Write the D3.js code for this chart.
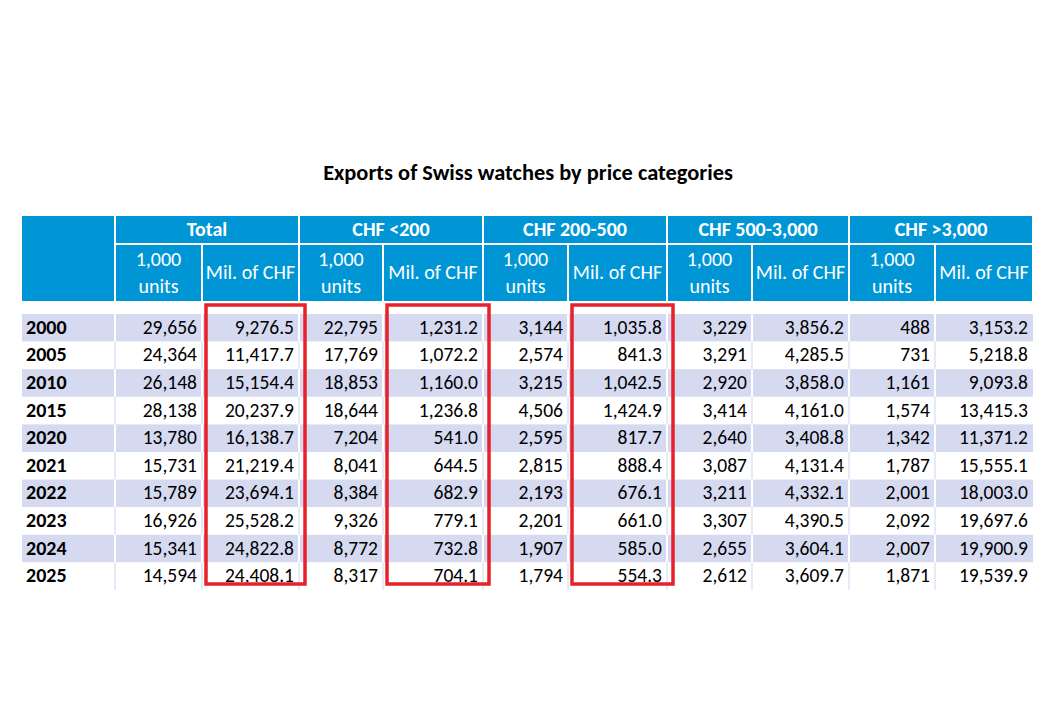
<!DOCTYPE html>
<html>
<head>
<meta charset="utf-8">
<script src="https://cdn.jsdelivr.net/npm/d3@7"></script>
<style>
  body { margin: 0; background: #fff; }
  svg text { font-family: Carlito, Calibri, Lato, sans-serif; }
</style>
</head>
<body>
<svg id="chart" width="1056" height="704"></svg>
<script>
var years = [2000, 2005, 2010, 2015, 2020, 2021, 2022, 2023, 2024, 2025];
var groups = ["Total", "CHF <200", "CHF 200-500", "CHF 500-3,000", "CHF >3,000"];
var subHeads = ["1,000 units", "Mil. of CHF"];

var totalUnits = [29656, 24364, 26148, 28138, 13780, 15731, 15789, 16926, 15341, 14594];
var totalValue = [9276.5, 11417.7, 15154.4, 20237.9, 16138.7, 21219.4, 23694.1, 25528.2, 24822.8, 24408.1];
var lt200Units = [22795, 17769, 18853, 18644, 7204, 8041, 8384, 9326, 8772, 8317];
var lt200Value = [1231.2, 1072.2, 1160.0, 1236.8, 541.0, 644.5, 682.9, 779.1, 732.8, 704.1];
var r200Units = [3144, 2574, 3215, 4506, 2595, 2815, 2193, 2201, 1907, 1794];
var r200Value = [1035.8, 841.3, 1042.5, 1424.9, 817.7, 888.4, 676.1, 661.0, 585.0, 554.3];
var r500Units = [3229, 3291, 2920, 3414, 2640, 3087, 3211, 3307, 2655, 2612];
var r500Value = [3856.2, 4285.5, 3858.0, 4161.0, 3408.8, 4131.4, 4332.1, 4390.5, 3604.1, 3609.7];
var gt3000Units = [488, 731, 1161, 1574, 1342, 1787, 2001, 2092, 2007, 1871];
var gt3000Value = [3153.2, 5218.8, 9093.8, 13415.3, 11371.2, 15555.1, 18003.0, 19697.6, 19900.9, 19539.9];

// value columns that get a red frame
var highlighted = [1, 3, 5];

var series = [totalUnits, totalValue, lt200Units, lt200Value, r200Units, r200Value,
              r500Units, r500Value, gt3000Units, gt3000Value];

var blue = "#0096d6";
var stripe = "#d5daf1";
var red = "#e8202a";

var svg = d3.select("#chart");

// column edges (year column + 10 data columns)
var colWidths = [93, 87, 97, 84, 100, 85, 99, 85, 97, 86, 98];
var left = 22;
var edges = [left];
colWidths.forEach(function (w) { edges.push(edges[edges.length - 1] + w); });
var colX = function (c) { return edges[c + 1]; };   // data column c left edge
var colW = function (c) { return colWidths[c + 1]; };
var right = edges[edges.length - 1];

var y = d3.scaleBand().domain(years).range([314, 590]);

var fmtUnits = d3.format(",d");
var fmtValue = d3.format(",.1f");

// title
svg.append("text")
  .attr("x", 528).attr("y", 180)
  .attr("text-anchor", "middle")
  .style("font-size", "22.4px")
  .style("font-weight", "bold")
  .attr("fill", "#000")
  .text("Exports of Swiss watches by price categories");

// header
var head = svg.append("g");
var top1 = 216, h1 = 27, top2 = 245, h2 = 56;

head.append("rect")
  .attr("x", edges[0]).attr("y", top1)
  .attr("width", colWidths[0] - 1).attr("height", top2 + h2 - top1)
  .attr("fill", blue);

groups.forEach(function (g, i) {
  var x0 = colX(i * 2), w = colW(i * 2) + colW(i * 2 + 1);
  head.append("rect")
    .attr("x", x0 + 1).attr("y", top1)
    .attr("width", w - 2).attr("height", h1)
    .attr("fill", blue);
  head.append("text")
    .attr("x", x0 + w / 2).attr("y", top1 + 20)
    .attr("text-anchor", "middle")
    .attr("fill", "#fff")
    .style("font-size", "20px").style("font-weight", "bold")
    .text(g);
});

d3.range(10).forEach(function (c) {
  var x0 = colX(c), w = colW(c);
  head.append("rect")
    .attr("x", x0 + 1).attr("y", top2)
    .attr("width", w - 2).attr("height", h2)
    .attr("fill", blue);
  var t = head.append("text")
    .attr("text-anchor", "middle")
    .attr("fill", "#fff")
    .style("font-size", "20px");
  if (c % 2 == 0) {
    var parts = subHeads[0].split(" ");
    t.append("tspan").attr("x", x0 + w / 2).attr("y", top2 + 21).text(parts[0]);
    t.append("tspan").attr("x", x0 + w / 2).attr("y", top2 + 48).text(parts[1]);
  } else {
    t.attr("x", x0 + w / 2).attr("y", top2 + 34).text(subHeads[1]);
  }
});

// body rows
var body = svg.append("g");
var rows = body.selectAll(".row")
  .data(years)
  .enter()
  .append("g")
  .attr("class", "row");

rows.append("rect")
  .attr("x", left).attr("y", function (d) { return y(d); })
  .attr("width", right - left).attr("height", y.bandwidth())
  .attr("fill", function (d, i) { return i % 2 == 0 ? stripe : "#fff"; });

// cell separators
rows.each(function (d, i) {
  var g = d3.select(this);
  edges.slice(1, -1).forEach(function (ex) {
    g.append("line")
      .attr("x1", ex).attr("x2", ex)
      .attr("y1", y(d)).attr("y2", y(d) + y.bandwidth())
      .attr("stroke", i % 2 == 0 ? "#fff" : stripe)
      .attr("stroke-width", i % 2 == 0 ? 2 : 1.2);
  });
});

rows.append("text")
  .attr("x", left + 4)
  .attr("y", function (d) { return y(d) + y.bandwidth() / 2 + 6; })
  .style("font-size", "20px").style("font-weight", "bold")
  .attr("fill", "#000")
  .text(function (d) { return d; });

series.forEach(function (s, c) {
  body.selectAll(".c" + c)
    .data(s)
    .enter()
    .append("text")
    .attr("x", colX(c) + colW(c) - 5)
    .attr("y", function (d, i) { return y(years[i]) + y.bandwidth() / 2 + 6; })
    .attr("text-anchor", "end")
    .style("font-size", "19.5px")
    .attr("fill", "#000")
    .text(function (d) { return c % 2 == 0 ? fmtUnits(d) : fmtValue(d); });
});

// red frames
highlighted.forEach(function (c) {
  svg.append("rect")
    .attr("x", colX(c) + 4).attr("y", 305)
    .attr("width", colW(c) + 2).attr("height", 279)
    .attr("fill", "none")
    .attr("stroke", red)
    .attr("stroke-width", 3.5);
});
</script>
</body>
</html>
